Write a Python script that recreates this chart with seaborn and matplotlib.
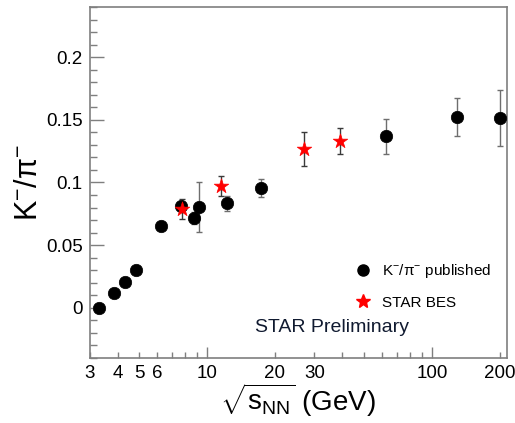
import matplotlib
matplotlib.use("Agg")
import matplotlib.pyplot as plt
import seaborn as sns
import pandas as pd
from matplotlib.ticker import FixedLocator, FuncFormatter, MultipleLocator
from matplotlib.lines import Line2D

# Published K-/pi- ratios (AGS, SPS, RHIC)
pub_energy = [3.32, 3.84, 4.3, 4.85, 6.27, 7.62, 8.76, 9.2, 12.3, 17.3, 62.4, 130, 200]
pub_ratio = [0.0, 0.0116, 0.021, 0.0305, 0.0654, 0.0815, 0.0715, 0.0805, 0.0835, 0.0957, 0.1368, 0.1523, 0.1515]
pub_err = [0.0005, 0.0005, 0.001, 0.001, 0.002, 0.003, 0.005, 0.0201, 0.006, 0.007, 0.014, 0.015, 0.022]

# STAR Beam Energy Scan
bes_energy = [7.7, 11.5, 27, 39]
bes_ratio = [0.0792, 0.097, 0.1268, 0.1329]
bes_err = [0.008, 0.008, 0.0135, 0.0105]

x_major = [10, 100]
x_minor = [3, 4, 5, 6, 7, 8, 9, 20, 30, 40, 50, 60, 70, 80, 90, 200]
x_minor_labels = [3, 4, 5, 6, 20, 30, 200]
y_labels = [0, 0.05, 0.1, 0.15, 0.2]

sns.set_style("white")
plt.rcParams["font.family"] = ["Liberation Sans", "DejaVu Sans"]
plt.rcParams["text.color"] = "black"
plt.rcParams["axes.labelcolor"] = "black"
plt.rcParams["mathtext.fontset"] = "custom"
plt.rcParams["mathtext.rm"] = "Liberation Sans"
plt.rcParams["mathtext.it"] = "Liberation Sans:italic"
plt.rcParams["mathtext.bf"] = "Liberation Sans:bold"

pub = pd.DataFrame({"energy": pub_energy, "ratio": pub_ratio, "err": pub_err})
bes = pd.DataFrame({"energy": bes_energy, "ratio": bes_ratio, "err": bes_err})

fig = plt.figure(figsize=(5.15, 4.23), dpi=100)
ax = fig.add_axes([0.1738, 0.1537, 0.8107, 0.8298])

ax.errorbar(pub["energy"], pub["ratio"], yerr=pub["err"], fmt="none",
            ecolor="#6e6e6e", elinewidth=1.0, capsize=2, capthick=1.0, zorder=2)
ax.errorbar(bes["energy"], bes["ratio"], yerr=bes["err"], fmt="none",
            ecolor="#3a3a3a", elinewidth=1.0, capsize=2, capthick=1.0, zorder=2)

sns.scatterplot(data=pub, x="energy", y="ratio", ax=ax, marker="o", s=80,
                color="black", edgecolor="black", linewidth=0.5, zorder=3, legend=False)
sns.scatterplot(data=bes, x="energy", y="ratio", ax=ax, marker="*", s=120,
                color="#ff0000", edgecolor="#ff0000", linewidth=0.5, zorder=4, legend=False)

ax.set_xscale("log")
ax.set_xlim(3.0, 216)
ax.set_ylim(-0.04, 0.24)

ax.xaxis.set_major_locator(FixedLocator(x_major))
ax.xaxis.set_major_formatter(FuncFormatter(lambda v, p: f"{v:g}"))
ax.xaxis.set_minor_locator(FixedLocator(x_minor))
ax.xaxis.set_minor_formatter(
    FuncFormatter(lambda v, p: f"{v:g}" if any(abs(v - m) < 1e-6 for m in x_minor_labels) else ""))

ax.yaxis.set_major_locator(FixedLocator(y_labels))
ax.yaxis.set_major_formatter(FuncFormatter(lambda v, p: f"{v:g}"))
ax.yaxis.set_minor_locator(MultipleLocator(0.01))

edge = "#7f7f7f"
for s in ax.spines.values():
    s.set_color(edge)
    s.set_linewidth(1.2)

ax.tick_params(axis="both", which="both", direction="in", color=edge, width=1.0,
               labelcolor="black", labelsize=13.5, top=False, right=False,
               bottom=True, left=True)
ax.tick_params(axis="y", which="major", length=10, pad=5)
ax.tick_params(axis="y", which="minor", length=5)
ax.tick_params(axis="x", which="major", length=8, pad=5)
ax.tick_params(axis="x", which="minor", length=4, pad=5)

ax.set_xlabel(r"$\sqrt{\mathrm{s}_{\mathrm{NN}}}$ (GeV)", fontsize=20)
ax.set_ylabel(r"K$^{-}$/π$^{-}$", fontsize=22)
ax.xaxis.set_label_coords(0.5, -0.068)
ax.yaxis.set_label_coords(-0.11, 0.5)

handles = [
    Line2D([], [], marker="o", linestyle="none", color="black", markersize=8),
    Line2D([], [], marker="*", linestyle="none", color="#ff0000", markersize=10),
]
ax.legend(handles, [r"K$^{-}$/π$^{-}$ published", "STAR BES"],
          loc="center left", bbox_to_anchor=(0.605, 0.205), frameon=False,
          fontsize=11, handlelength=1.0, handletextpad=0.7, labelspacing=1.0)

ax.text(0.396, 0.088, "STAR Preliminary", transform=ax.transAxes,
        fontsize=14, color="#101a30", va="center", ha="left")

fig.savefig("out.png", dpi=100)
